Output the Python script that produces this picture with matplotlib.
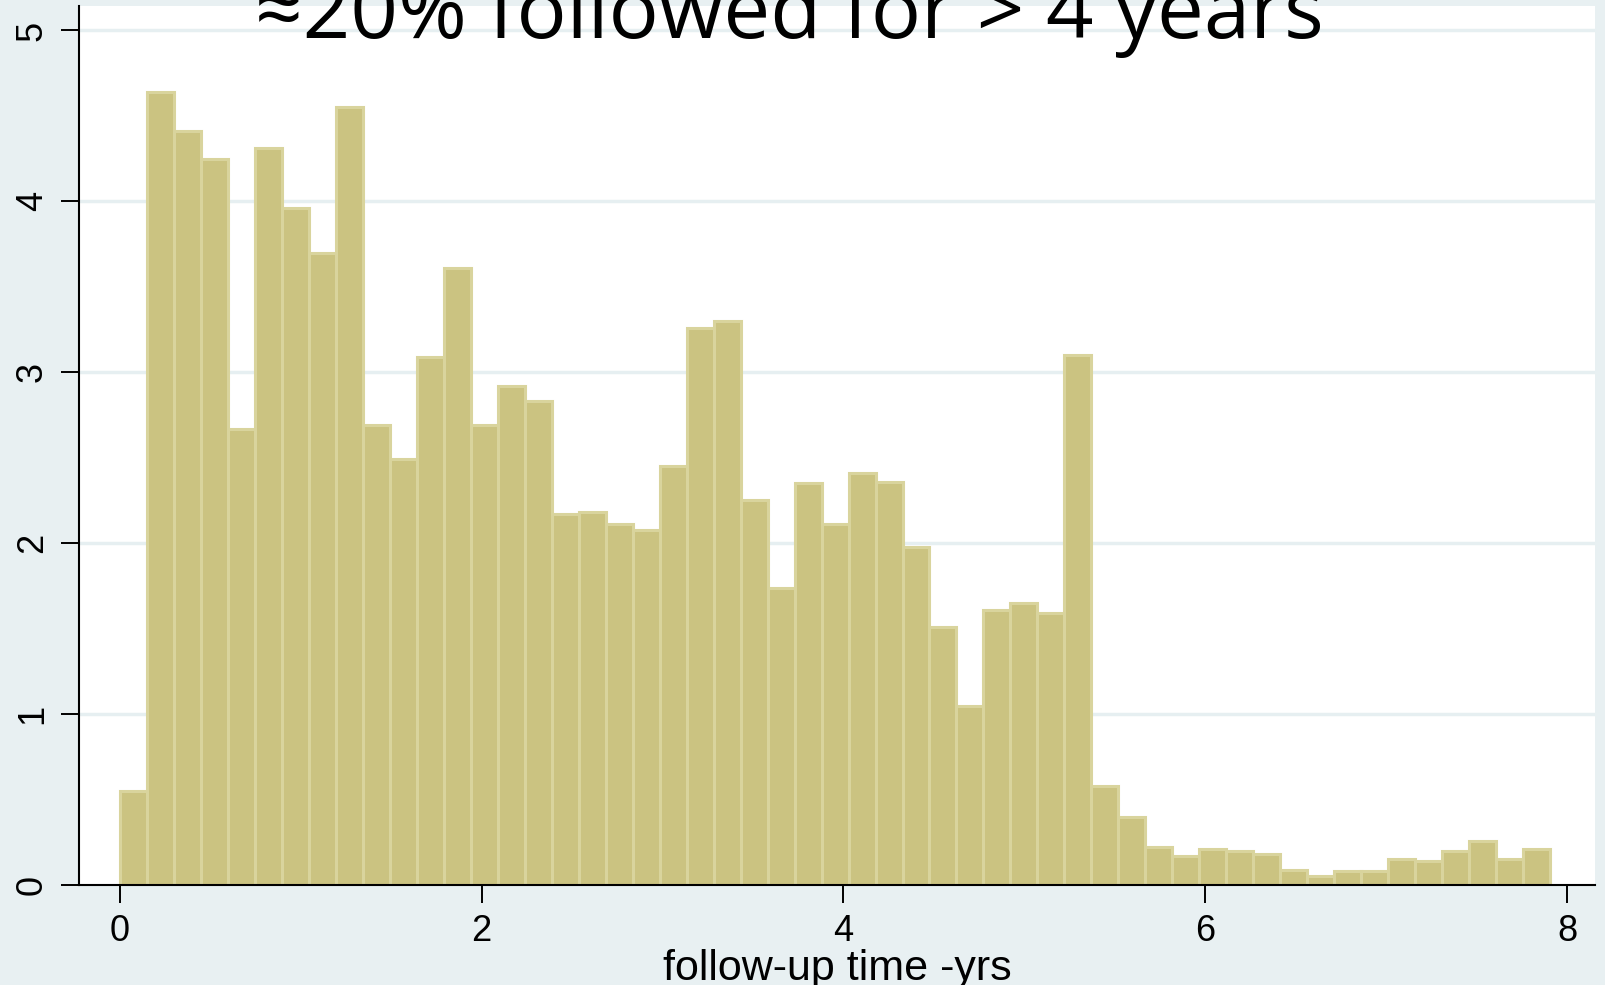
import numpy as np
import matplotlib.pyplot as plt

plt.rcParams['font.family'] = ['Liberation Sans', 'DejaVu Sans']

# histogram of follow-up time (density), bin width ~0.149 yrs
bin_width = 0.1492
density = [0.55, 4.64, 4.41, 4.25, 2.67, 4.31, 3.96, 3.70, 4.55, 2.69,
           2.49, 3.09, 3.61, 2.69, 2.92, 2.83, 2.17, 2.18, 2.11, 2.08,
           2.45, 3.26, 3.30, 2.25, 1.74, 2.35, 2.11, 2.41, 2.36, 1.98,
           1.51, 1.05, 1.61, 1.65, 1.59, 3.10, 0.58, 0.40, 0.22, 0.17,
           0.21, 0.20, 0.18, 0.09, 0.05, 0.08, 0.08, 0.15, 0.14, 0.20,
           0.26, 0.15, 0.21]
left_edges = np.arange(len(density)) * bin_width

x_ticks = [0, 2, 4, 6, 8]
y_ticks = [0, 1, 2, 3, 4, 5]

bg = '#E8F0F2'
fig = plt.figure(figsize=(16.05, 9.85), dpi=100, facecolor=bg)
ax = fig.add_axes([0.0492, 0.1015, 0.9446, 0.8924])
ax.set_facecolor('white')

ax.bar(left_edges, density, width=bin_width, align='edge',
       color='#CBC381', edgecolor='#D9D49D', linewidth=2.2, zorder=2)

ax.set_xlim(-0.2255, 8.155)
ax.set_ylim(0, 5.143)
ax.set_xticks(x_ticks)
ax.set_yticks(y_ticks)
ax.set_yticklabels([str(v) for v in y_ticks], rotation=90, va='center')

for v in y_ticks[1:]:
    ax.axhline(v, color='#E6EFF1', linewidth=2.5, zorder=1)

for s in ['top', 'right']:
    ax.spines[s].set_visible(False)
for s in ['left', 'bottom']:
    ax.spines[s].set_linewidth(1.5)
    ax.spines[s].set_zorder(3)

ax.tick_params(axis='both', length=13, width=1.4, labelsize=26, pad=8)
ax.set_xlabel('follow-up time -yrs', fontsize=31, va='baseline')
ax.xaxis.set_label_coords(0.5, -0.108)

fig.text(0.4916, 1 - 38 / 985, '≈20% followed for > 4 years',
         ha='center', va='baseline', fontsize=60,
         family=['Open Sans', 'DejaVu Sans'])

fig.savefig('out.png', dpi=100, facecolor=bg)
